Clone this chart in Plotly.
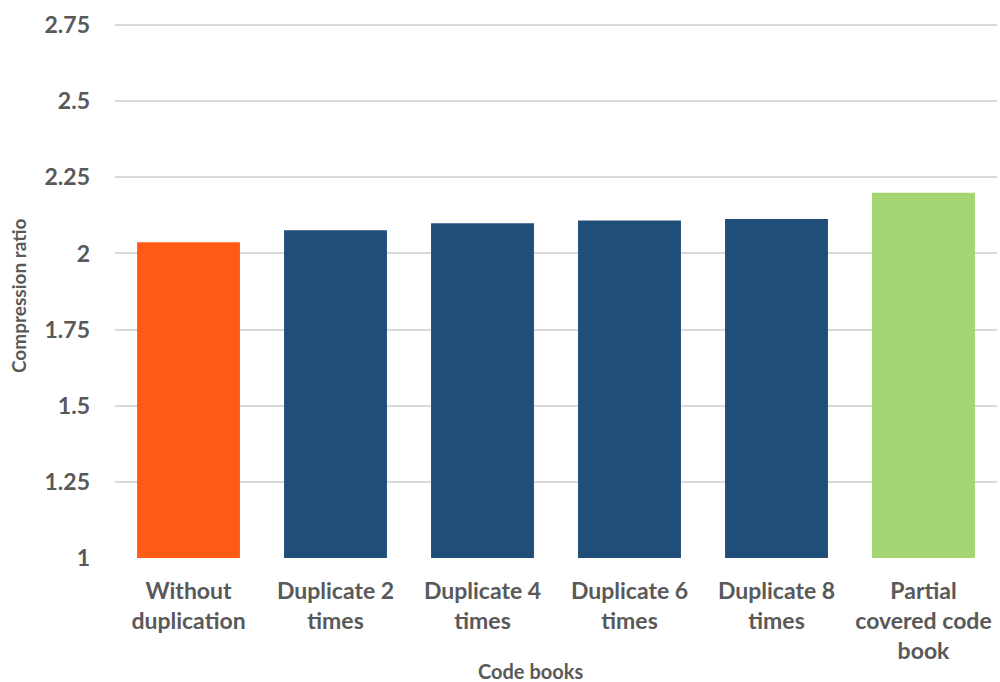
import plotly.graph_objects as go

categories = [
    "Without<br>duplication",
    "Duplicate 2<br>times",
    "Duplicate 4<br>times",
    "Duplicate 6<br>times",
    "Duplicate 8<br>times",
    "Partial<br>covered code<br>book",
]
compression_ratio = [2.037, 2.076, 2.099, 2.108, 2.113, 2.199]
bar_colors = ["#FF5A16", "#1F4E79", "#1F4E79", "#1F4E79", "#1F4E79", "#A3D672"]
y_ticks = [1, 1.25, 1.5, 1.75, 2, 2.25, 2.5, 2.75]
y_tick_text = ["1", "1.25", "1.5", "1.75", "2", "2.25", "2.5", "2.75"]

text_color = "#595959"
font_family = "Lato, 'Open Sans', sans-serif"

fig = go.Figure(
    go.Bar(
        x=categories,
        y=[v - 1 for v in compression_ratio],
        base=1,
        marker=dict(color=bar_colors, line=dict(width=0)),
        hovertext=[str(v) for v in compression_ratio],
    )
)

top_margin = 22
bottom_margin = 124
fig.update_layout(
    width=1000,
    height=682,
    margin=dict(l=115, r=3, t=top_margin, b=bottom_margin),
    paper_bgcolor="white",
    plot_bgcolor="white",
    bargap=0.3,
    showlegend=False,
    font=dict(family=font_family, color=text_color, size=23, weight="bold"),
    xaxis=dict(
        showgrid=False,
        showline=False,
        ticks="",
        ticklabelstandoff=17,
        tickfont=dict(size=23, weight="bold", color=text_color),
    ),
    yaxis=dict(
        range=[1, 2.76],
        tickvals=y_ticks,
        ticktext=y_tick_text,
        showgrid=True,
        gridcolor="#D9D9D9",
        gridwidth=1.5,
        zeroline=False,
        showline=False,
        ticks="",
        ticklabelstandoff=24,
        tickfont=dict(size=23, weight="bold", color=text_color),
    ),
)

# axis titles placed in pixel terms relative to the plot area
plot_w = 1000 - 115 - 3
plot_h = 682 - top_margin - bottom_margin
fig.add_annotation(
    text="Compression ratio",
    x=(18 - 115) / plot_w, y=(682 - bottom_margin - 296) / plot_h,
    xref="paper", yref="paper", xanchor="center", yanchor="middle",
    showarrow=False, textangle=-90,
    font=dict(size=19, weight="bold", color=text_color),
)
fig.add_annotation(
    text="Code books",
    x=(530 - 115) / plot_w, y=(682 - bottom_margin - 671) / plot_h,
    xref="paper", yref="paper", xanchor="center", yanchor="middle",
    showarrow=False,
    font=dict(size=20, weight="bold", color=text_color),
)

fig.write_html("out.html")
